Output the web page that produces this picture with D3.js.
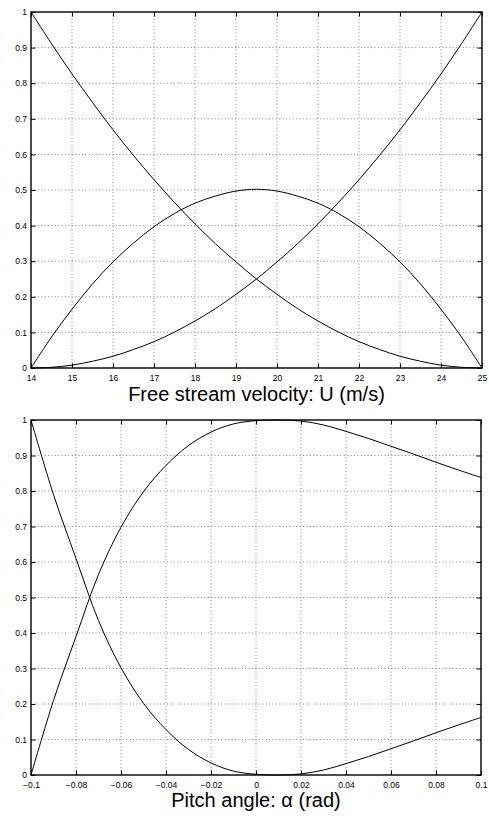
<!DOCTYPE html>
<html>
<head>
<meta charset="utf-8">
<script src="https://cdn.jsdelivr.net/npm/d3@7"></script>
<style>
  body { margin: 0; background: #fff; }
  svg { display: block; }
</style>
</head>
<body>
<div class="chart"></div>
<script>
// top panel: free stream velocity
const velocity = [14, 14.5, 15, 15.5, 16, 16.5, 17, 17.5, 18, 18.5, 19, 19.5,
  20, 20.5, 21, 21.5, 22, 22.5, 23, 23.5, 24, 24.5, 25]
const velLow = [1.000, 0.911, 0.826, 0.746, 0.669, 0.597, 0.529, 0.465, 0.405, 0.349, 0.298, 0.250,
  0.207, 0.167, 0.132, 0.101, 0.074, 0.052, 0.033, 0.019, 0.008, 0.002, 0.000]
const velMid = [0.000, 0.087, 0.165, 0.236, 0.298, 0.351, 0.397, 0.434, 0.463, 0.483, 0.497, 0.502,
  0.497, 0.483, 0.463, 0.434, 0.397, 0.351, 0.298, 0.236, 0.165, 0.087, 0.000]
const velHigh = [0.000, 0.002, 0.008, 0.019, 0.033, 0.052, 0.074, 0.101, 0.132, 0.167, 0.207, 0.250,
  0.298, 0.349, 0.405, 0.465, 0.529, 0.597, 0.669, 0.746, 0.826, 0.911, 1.000]
const velTicks = [14, 15, 16, 17, 18, 19, 20, 21, 22, 23, 24, 25]

// bottom panel: pitch angle
const pitch = [-0.10, -0.09, -0.08, -0.07, -0.06, -0.05, -0.04, -0.03, -0.02, -0.01, 0.00,
  0.01, 0.02, 0.03, 0.04, 0.05, 0.06, 0.07, 0.08, 0.09, 0.10]
const pitchA = [1.000, 0.790, 0.610, 0.435, 0.302, 0.202, 0.128, 0.072, 0.034, 0.011, 0.002,
  0.000, 0.003, 0.014, 0.032, 0.052, 0.074, 0.096, 0.119, 0.141, 0.162]
const pitchB = [0.000, 0.210, 0.390, 0.565, 0.698, 0.798, 0.872, 0.928, 0.966, 0.989, 0.998,
  1.000, 0.997, 0.986, 0.968, 0.948, 0.926, 0.904, 0.881, 0.859, 0.838]
const pitchTicks = [-0.1, -0.08, -0.06, -0.04, -0.02, 0, 0.02, 0.04, 0.06, 0.08, 0.1]

const yTicks = [0, 0.1, 0.2, 0.3, 0.4, 0.5, 0.6, 0.7, 0.8, 0.9, 1]

let width = 489
let height = 818
let fontFamily = '"Liberation Sans", Arial, Helvetica, sans-serif'

const svg = d3.select('.chart').append('svg')
  .attr('width', width)
  .attr('height', height)
  .attr('font-family', fontFamily)

const drawPanel = (opts) => {
  const x = d3.scaleLinear().domain(opts.xDomain).range([opts.left, opts.right])
  const y = d3.scaleLinear().domain([0, 1]).range([opts.bottom, opts.top])
  const g = svg.append('g')
  const tick = 4.5

  // dotted grid
  g.append('g').selectAll('line')
    .data(opts.xTicks.slice(1, -1))
    .join('line')
    .attr('x1', d => x(d)).attr('x2', d => x(d))
    .attr('y1', opts.top).attr('y2', opts.bottom)
  g.append('g').selectAll('line')
    .data(yTicks.slice(1, -1))
    .join('line')
    .attr('x1', opts.left).attr('x2', opts.right)
    .attr('y1', d => y(d)).attr('y2', d => y(d))
  g.selectAll('line')
    .attr('stroke', '#666')
    .attr('stroke-width', 0.8)
    .attr('stroke-dasharray', '1,2.4')

  // curves
  const line = d3.line()
    .x(d => x(d[0]))
    .y(d => Math.min(y(d[1]), opts.bottom))
    .curve(d3.curveCatmullRom.alpha(0.5))
  opts.series.forEach(s => {
    g.append('path')
      .datum(opts.xs.map((v, i) => [v, s[i]]))
      .attr('fill', 'none')
      .attr('stroke', '#000')
      .attr('stroke-width', 1)
      .attr('d', line)
  })

  // axes, ticks pointing inward
  const fmt = d => d3.format('')(d).replace('-', '\u2212')
  g.append('g')
    .attr('transform', `translate(0,${opts.bottom})`)
    .call(d3.axisBottom(x).tickValues(opts.xTicks).tickFormat(fmt)
      .tickSizeInner(-tick).tickSizeOuter(0).tickPadding(7))
  g.append('g')
    .attr('transform', `translate(${opts.left},0)`)
    .call(d3.axisLeft(y).tickValues(yTicks).tickFormat(d3.format(''))
      .tickSizeInner(-tick).tickSizeOuter(0).tickPadding(4))
  g.append('g')
    .attr('transform', `translate(0,${opts.top})`)
    .call(d3.axisTop(x).tickValues(opts.xTicks).tickFormat('')
      .tickSizeInner(-tick).tickSizeOuter(0))
  g.append('g')
    .attr('transform', `translate(${opts.right},0)`)
    .call(d3.axisRight(y).tickValues(yTicks).tickFormat('')
      .tickSizeInner(-tick).tickSizeOuter(0))
  g.selectAll('.domain').remove()
  g.selectAll('.tick line').attr('stroke', '#000').attr('stroke-width', 1)
  g.selectAll('.tick text')
    .attr('font-size', 8.5)
    .attr('font-family', fontFamily)
    .attr('fill', '#000')

  g.append('rect')
    .attr('x', opts.left).attr('y', opts.top)
    .attr('width', opts.right - opts.left)
    .attr('height', opts.bottom - opts.top)
    .attr('fill', 'none')
    .attr('stroke', '#000')
    .attr('stroke-width', 1.4)

  g.append('text')
    .attr('x', (opts.left + opts.right) / 2)
    .attr('y', opts.labelY)
    .attr('text-anchor', 'middle')
    .attr('font-size', 20)
    .text(opts.label)
}

drawPanel({
  left: 31, right: 482, top: 12, bottom: 368,
  xDomain: [14, 25], xTicks: velTicks, xs: velocity,
  series: [velLow, velMid, velHigh],
  label: 'Free stream velocity: U (m/s)', labelY: 401
})

drawPanel({
  left: 31, right: 481, top: 420, bottom: 775,
  xDomain: [-0.1, 0.1], xTicks: pitchTicks, xs: pitch,
  series: [pitchA, pitchB],
  label: 'Pitch angle: \u03b1 (rad)', labelY: 807
})
</script>
</body>
</html>
